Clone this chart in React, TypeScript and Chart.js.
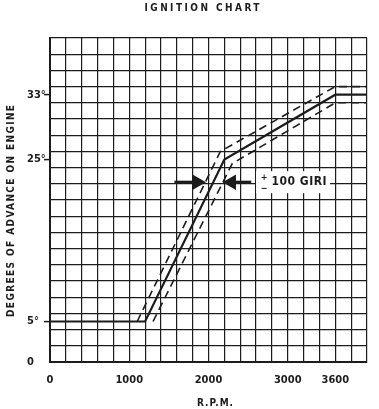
import React, { useEffect, useRef } from 'react';
import { Chart, registerables } from 'chart.js';

Chart.register(...registerables);

// ---- data ----
const rpmNominal = [0, 1200, 2200, 3600, 4000];
const advanceNominal = [5, 5, 25, 33, 33];
const rpmUpper = [1100, 2150, 3600, 4000];
const advanceUpper = [5, 26, 34, 34];
const rpmLower = [1300, 2300, 3600, 4000];
const advanceLower = [5, 24.5, 32, 32];
const arrowLeftRpm = [1570, 1855];
const arrowRightRpm = [2540, 2290];
const arrowAdvance = [22.2, 22.2];
const xLabelValues = [0, 1000, 2000, 3000, 3600];
const yLabelValues = [0, 5, 25, 33];
const yLabelTexts = ['0', '5°', '25°', '33°'];
const titleText = 'IGNITION CHART';
const yTitleText = 'DEGREES OF ADVANCE ON ENGINE';
const xTitleText = 'R.P.M.';
const toleranceText = '100 GIRI';

const FONT = "'DejaVu Sans Condensed', 'Liberation Sans Narrow', 'DejaVu Sans', sans-serif";
const INK = '#1c1c1c';

const pts = (xs: number[], ys: number[]) => xs.map((x, i) => ({ x, y: ys[i] }));

function drawSpaced(ctx: CanvasRenderingContext2D, text: string, cx: number, cy: number, target: number) {
  (ctx as any).letterSpacing = '0px';
  const w = ctx.measureText(text).width;
  const sp = Math.max(0, (target - w) / Math.max(1, text.length - 1));
  (ctx as any).letterSpacing = sp + 'px';
  ctx.textAlign = 'left';
  ctx.textBaseline = 'middle';
  ctx.fillText(text, cx - target / 2, cy);
  (ctx as any).letterSpacing = '0px';
}

const textPlugin = {
  id: 'textPlugin',
  afterDraw(chart: any) {
    const { ctx, chartArea, scales } = chart;
    ctx.save();
    ctx.fillStyle = INK;
    // title
    ctx.font = `bold 10px ${FONT}`;
    drawSpaced(ctx, titleText, 202, 8, 115);
    // x title
    ctx.font = `bold 10px ${FONT}`;
    drawSpaced(ctx, xTitleText, 215, 403, 36);
    // y title
    ctx.save();
    ctx.translate(11, 211);
    ctx.rotate(-Math.PI / 2);
    ctx.font = `bold 10px ${FONT}`;
    drawSpaced(ctx, yTitleText, 0, 0, 212);
    ctx.restore();
    // tolerance label
    const ly = scales.y.getPixelForValue(arrowAdvance[0]);
    const lx = scales.x.getPixelForValue(2600);
    ctx.fillStyle = '#ffffff';
    ctx.fillRect(lx, ly - 11, 74, 22);
    ctx.fillStyle = INK;
    ctx.font = `bold 9px ${FONT}`;
    ctx.textAlign = 'center';
    ctx.textBaseline = 'middle';
    ctx.fillText('+', lx + 8, ly - 5);
    ctx.fillText('−', lx + 8, ly + 6);
    ctx.font = `bold 12px ${FONT}`;
    drawSpaced(ctx, toleranceText, lx + 43, ly, 55);
    ctx.restore();
  },
};

export default function App() {
  const ref = useRef<HTMLCanvasElement | null>(null);
  useEffect(() => {
    if (!ref.current) return;
    const evenY: number[] = [];
    for (let v = 0; v <= 40; v += 2) evenY.push(v);
    const chart = new Chart(ref.current, {
      type: 'line',
      data: {
        datasets: [
          {
            data: pts(rpmNominal, advanceNominal),
            borderColor: INK,
            borderWidth: 2.2,
            pointRadius: 0,
            tension: 0,
          },
          {
            data: pts(rpmUpper, advanceUpper),
            borderColor: INK,
            borderWidth: 1.6,
            borderDash: [8, 5],
            pointRadius: 0,
            tension: 0,
          },
          {
            data: pts(rpmLower, advanceLower),
            borderColor: INK,
            borderWidth: 1.6,
            borderDash: [8, 5],
            pointRadius: 0,
            tension: 0,
          },
          {
            data: pts(arrowLeftRpm, arrowAdvance),
            borderColor: INK,
            backgroundColor: INK,
            borderWidth: 3,
            pointRadius: [0, 6],
            pointStyle: 'triangle',
            rotation: 90,
            tension: 0,
          },
          {
            data: pts(arrowRightRpm, arrowAdvance),
            borderColor: INK,
            backgroundColor: INK,
            borderWidth: 3,
            pointRadius: [0, 6],
            pointStyle: 'triangle',
            rotation: -90,
            tension: 0,
          },
        ],
      } as any,
      options: {
        animation: false,
        responsive: true,
        maintainAspectRatio: false,
        layout: { padding: { left: 27, top: 38, right: 6, bottom: 0 } },
        plugins: { legend: { display: false }, tooltip: { enabled: false }, title: { display: false } },
        scales: {
          x: {
            type: 'linear',
            min: 0,
            max: 4000,
            afterFit: (s: any) => { s.height = 47; },
            ticks: {
              stepSize: 200,
              autoSkip: false,
              maxRotation: 0,
              padding: 12,
              color: INK,
              font: { family: FONT, size: 11, weight: 'bold' },
              callback: (v: any) => (xLabelValues.includes(Number(v)) ? String(v) : ''),
            },
            grid: { color: INK, lineWidth: 1.2, drawTicks: false },
            border: { color: INK, width: 2 },
          },
          y: {
            type: 'linear',
            min: 0,
            max: 40,
            afterFit: (s: any) => { s.width = 23; },
            afterBuildTicks: (s: any) => {
              const vals = Array.from(new Set([...evenY, ...yLabelValues])).sort((a, b) => a - b);
              s.ticks = vals.map((v) => ({ value: v }));
            },
            ticks: {
              autoSkip: false,
              crossAlign: 'far',
              padding: 2,
              color: INK,
              font: { family: FONT, size: 11, weight: 'bold' },
              callback: (v: any) => {
                const i = yLabelValues.indexOf(Number(v));
                return i >= 0 ? yLabelTexts[i] : '';
              },
            },
            grid: {
              color: (c: any) => (c.tick && c.tick.value % 2 !== 0 ? 'rgba(0,0,0,0)' : INK),
              tickColor: (c: any) => (c.tick && c.tick.value % 2 !== 0 ? INK : 'rgba(0,0,0,0)'),
              lineWidth: 1.2,
              tickWidth: 1.5,
              tickLength: 6,
              drawTicks: true,
            },
            border: { color: INK, width: 2 },
          },
        },
      } as any,
      plugins: [textPlugin],
    });
    return () => chart.destroy();
  }, []);
  return (
    <div style={{ position: 'fixed', left: 0, top: 0, width: 379, height: 409, background: '#fff' }}>
      <canvas ref={ref} />
    </div>
  );
}
